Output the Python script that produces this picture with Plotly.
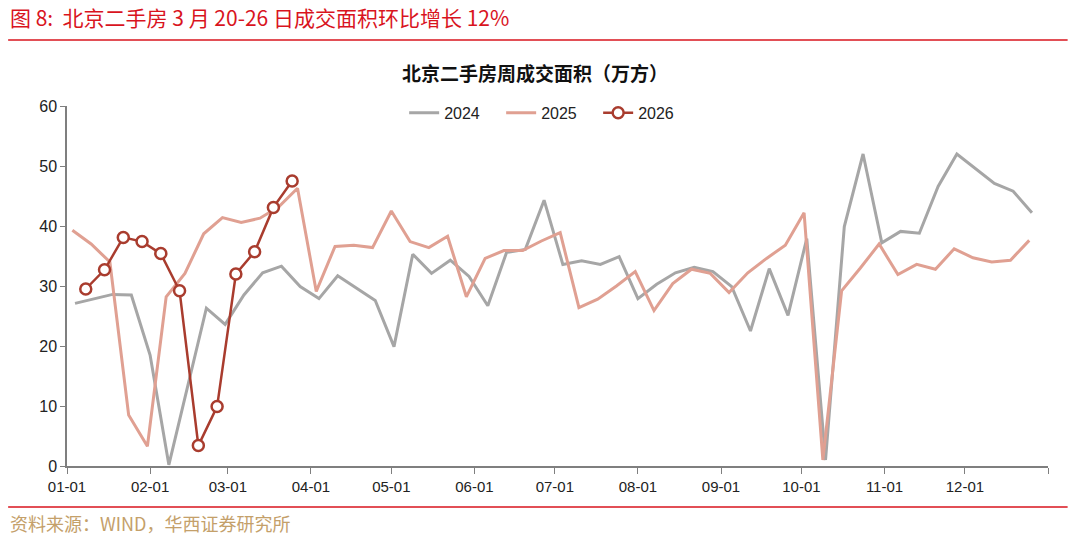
import plotly.graph_objects as go
import pandas as pd

# ---- data (万方) ----
# x axis is month-day of the year, drawn on a common (leap) calendar year
dates_2024 = pd.date_range("2024-01-04", periods=52, freq="7D")
vals_2024 = [27.1, 27.8, 28.6, 28.5, 18.5, 0.2, 13.0, 26.3, 23.6, 28.5,
             32.2, 33.3, 29.9, 27.9, 31.7, 29.6, 27.6, 19.9, 35.3, 32.1,
             34.3, 31.6, 26.7, 35.6, 36.1, 44.3, 33.6, 34.2, 33.6, 34.9,
             27.9, 30.3, 32.2, 33.1, 32.4, 29.9, 22.5, 32.9, 25.1, 37.9,
             1.0, 39.9, 52.0, 37.2, 39.1, 38.8, 46.6, 52.0, 49.5, 47.1,
             45.8, 42.2]

dates_2025 = pd.date_range("2024-01-03", periods=52, freq="7D")
vals_2025 = [39.3, 37.0, 34.0, 8.5, 3.3, 28.2, 32.1, 38.7, 41.4, 40.6,
             41.3, 43.2, 46.3, 29.1, 36.6, 36.8, 36.4, 42.5, 37.4, 36.4,
             38.3, 28.2, 34.6, 35.9, 35.9, 37.5, 38.9, 26.4, 27.8, 30.0,
             32.4, 25.9, 30.4, 32.8, 32.1, 28.9, 32.2, 34.6, 36.8, 42.2,
             1.0, 29.2, 33.0, 37.0, 31.9, 33.6, 32.8, 36.2, 34.7, 34.0,
             34.3, 37.6]

dates_2026 = pd.date_range("2024-01-08", periods=12, freq="7D")
vals_2026 = [29.5, 32.7, 38.1, 37.4, 35.4, 29.2, 3.4, 9.9, 32.0, 35.7, 43.1, 47.5]

tick_dates = ["2024-%02d-01" % m for m in range(1, 13)] + ["2025-01-01"]
tick_labels = ["%02d-01" % m for m in range(1, 13)] + [""]

C24, C25, C26 = "#A6A6A6", "#E0A092", "#A93C2E"
RED = "#D9141E"

fig = go.Figure()
fig.add_trace(go.Scatter(x=dates_2024, y=vals_2024, name="2024", mode="lines",
                         line=dict(color=C24, width=3)))
fig.add_trace(go.Scatter(x=dates_2025, y=vals_2025, name="2025", mode="lines",
                         line=dict(color=C25, width=3)))
fig.add_trace(go.Scatter(x=dates_2026, y=vals_2026, name="2026", mode="lines+markers",
                         line=dict(color=C26, width=2.5),
                         marker=dict(symbol="circle", size=11, color="white",
                                     line=dict(color=C26, width=2.5))))

font_main = "Liberation Sans, Arial, sans-serif"
fig.update_layout(
    width=1080, height=537,
    margin=dict(l=67, r=32, t=106, b=71),
    paper_bgcolor="white", plot_bgcolor="white",
    showlegend=True,
    legend=dict(orientation="h", x=0.492, xanchor="center", y=0.981, yanchor="middle",
                font=dict(family=font_main, size=16, color="#222222"),
                bgcolor="rgba(0,0,0,0)", entrywidth=52, entrywidthmode="pixels"),
    xaxis=dict(type="date", range=["2024-01-01", "2025-01-01"],
               tickmode="array", tickvals=tick_dates, ticktext=tick_labels,
               showgrid=False, zeroline=False,
               showline=True, linecolor="#7F7F7F", linewidth=1.5,
               ticks="outside", ticklen=6, tickcolor="#7F7F7F", tickwidth=1,
               tickfont=dict(family=font_main, size=15, color="#222222")),
    yaxis=dict(range=[0, 60], dtick=10, showgrid=False, zeroline=False,
               showline=True, linecolor="#7F7F7F", linewidth=1.5,
               ticks="outside", ticklen=5, tickcolor="#7F7F7F",
               tickfont=dict(family=font_main, size=16, color="#222222")),
)

# header title
fig.add_annotation(xref="paper", yref="paper", x=-0.060, y=1.247, xanchor="left", yanchor="middle",
                   text="图 8:  北京二手房 3 月 20-26 日成交面积环比增长 12%", showarrow=False,
                   font=dict(family="Noto Sans CJK SC", size=21, color=RED))
# chart title
fig.add_annotation(xref="paper", yref="paper", x=0.4766, y=1.094, xanchor="center", yanchor="middle",
                   text="<b>北京二手房周成交面积（万方）</b>", showarrow=False,
                   font=dict(family="Noto Sans CJK SC", size=19, color="#111111"))
# footer
fig.add_annotation(xref="paper", yref="paper", x=-0.060, y=-0.158, xanchor="left", yanchor="middle",
                   text="资料来源：WIND，华西证券研究所", showarrow=False,
                   font=dict(family="Noto Sans CJK SC", size=18, color="#C4A06A"))
# red rules
fig.add_shape(type="line", xref="paper", yref="paper", x0=-0.060, x1=1.020, y0=1.183, y1=1.183,
              line=dict(color=RED, width=1.5))
fig.add_shape(type="line", xref="paper", yref="paper", x0=-0.060, x1=1.020, y0=-0.114, y1=-0.114,
              line=dict(color=RED, width=1.5))

fig.write_html("out.html", config={"displayModeBar": False},
               post_script="document.body.style.margin='0';document.body.style.overflow='hidden';")
